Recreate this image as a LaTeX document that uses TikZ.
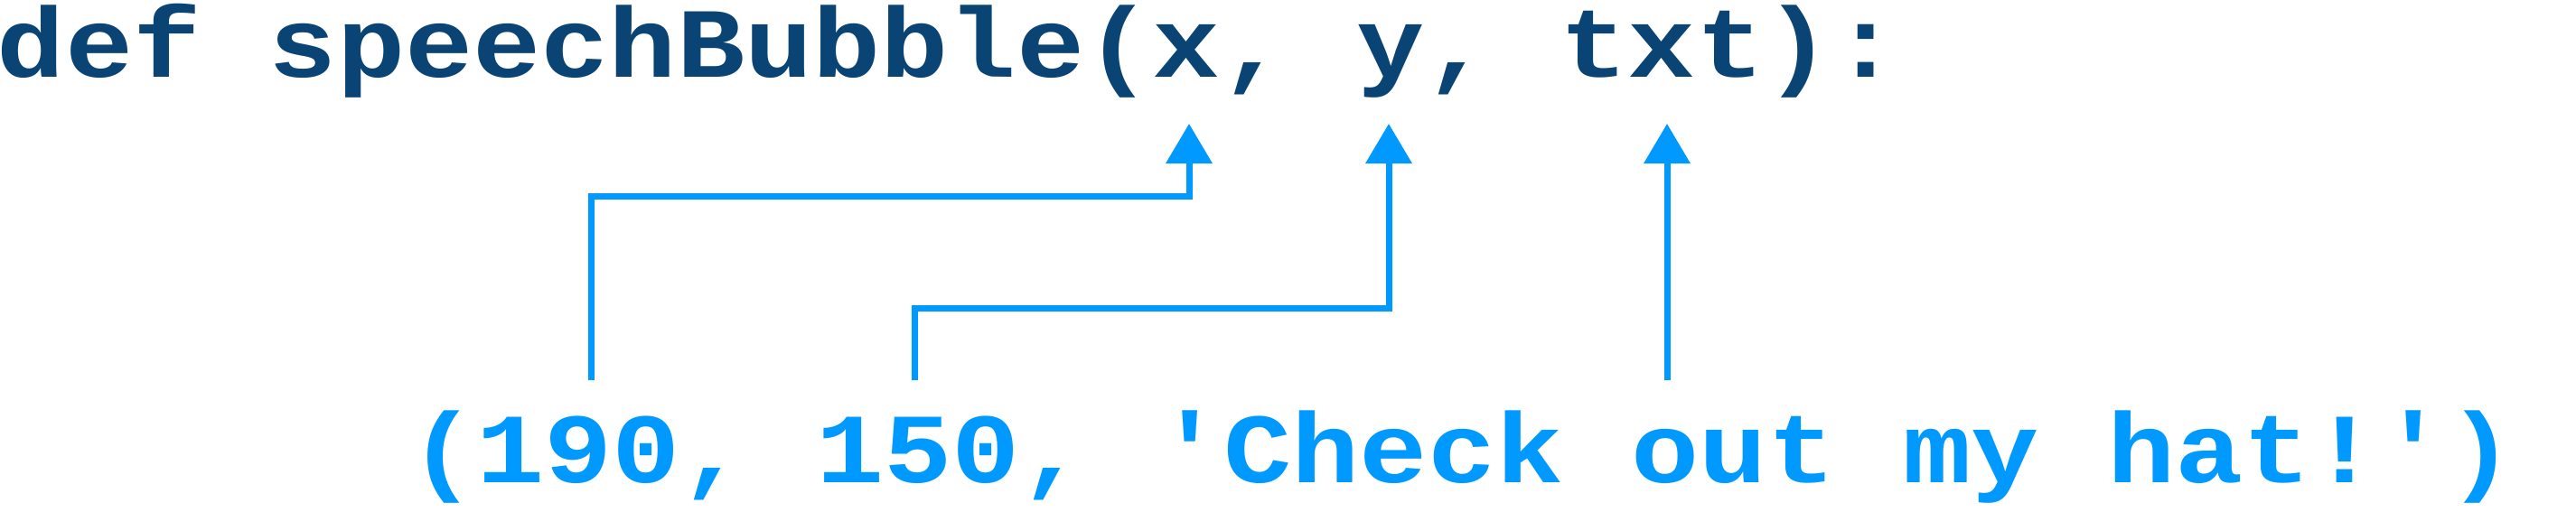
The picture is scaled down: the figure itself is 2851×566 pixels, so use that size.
\documentclass[tikz,border=0pt]{standalone}
\usepackage{fontspec}
\newfontfamily\codefont{Liberation Mono}[FakeStretch=1.1395]
\usetikzlibrary{arrows.meta}
\definecolor{codeblue}{RGB}{10,68,116}
\definecolor{argblue}{RGB}{0,153,255}
\begin{document}
\begin{tikzpicture}[x=0.2pt,y=-0.2pt,
  code/.style={inner sep=0pt,outer sep=0pt,anchor=base west,
    font=\codefont\bfseries\fontsize{22pt}{26pt}\selectfont},
  conn/.style={draw=argblue,line width=1.4pt,line join=miter,
    -{Triangle[width=10pt,length=8.8pt]}}]
\useasboundingbox (0,0) rectangle (2851,566);
\node[code,text=codeblue] (sig) at (-3,85) {def speechBubble(x, y, txt):};
\node[code,text=argblue] (call) at (452,534) {(190, 150, {\char39}Check out my hat!{\char39})};
\coordinate (tx) at (1316,137);
\coordinate (ty) at (1537,137);
\coordinate (tt) at (1845,137);
\coordinate (b1) at (654,421);
\coordinate (b2) at (1012,421);
\coordinate (b3) at (1845,421);
\coordinate (k1) at (1316,217);
\coordinate (k2) at (1537,341);
\draw[conn] (b1) |- (k1) -- (tx);
\draw[conn] (b2) |- (k2) -- (ty);
\draw[conn] (b3) -- (tt);
\end{tikzpicture}
\end{document}
